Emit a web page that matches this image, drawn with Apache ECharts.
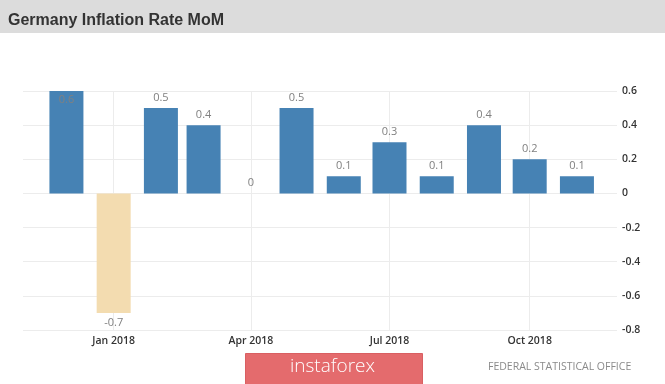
<!DOCTYPE html>
<html>
<head>
<meta charset="utf-8">
<script src="https://cdn.jsdelivr.net/npm/echarts@6/dist/echarts.min.js"></script>
<style>html,body{margin:0;padding:0;background:#fff;}#c{width:665px;height:384px;}</style>
</head>
<body>
<div id="c"></div>
<script>
const titleText = 'Germany Inflation Rate MoM';
const sourceText = 'FEDERAL STATISTICAL OFFICE';
const watermarkText = 'instaforex';
const months = ['2017-12-01','2018-01-01','2018-02-01','2018-03-01','2018-04-01','2018-05-01','2018-06-01','2018-07-01','2018-08-01','2018-09-01','2018-10-01','2018-11-01'];
const values = [0.6, -0.7, 0.5, 0.4, 0, 0.5, 0.1, 0.3, 0.1, 0.4, 0.2, 0.1];
const xTickDates = ['2018-01-01','2018-04-01','2018-07-01','2018-10-01'];
const monthNames = ['Jan','Feb','Mar','Apr','May','Jun','Jul','Aug','Sep','Oct','Nov','Dec'];
const yMin = -0.8, yMax = 0.6, yStep = 0.2;

function ts(s){ const p = s.split('-').map(Number); return new Date(p[0], p[1]-1, p[2]).getTime(); }
const xMin = new Date(2017, 10, 2, 12).getTime();
const xMax = new Date(2018, 10, 27, 7).getTime();

const data = months.map((m, i) => {
  const v = values[i];
  const item = { value: [ts(m), v] };
  if (v < 0) {
    item.itemStyle = { color: '#f3dcb0' };
    item.label = { position: 'bottom', distance: 4 };
  } else if (v >= yMax) {
    item.label = { position: 'insideTop', distance: 3 };
  }
  return item;
});

const chart = echarts.init(document.getElementById('c'), null, { renderer: 'canvas' });
chart.setOption({
  animation: false,
  backgroundColor: '#ffffff',
  title: {
    text: titleText, left: 3, top: 8,
    textStyle: { fontFamily: 'Liberation Sans, Arial, sans-serif', fontSize: 16, fontWeight: 'bold', color: '#333333' }
  },
  graphic: [
    { type: 'rect', left: 0, top: 0, z: -10, shape: { width: 665, height: 33 }, style: { fill: '#dcdcdc' } },
    { type: 'rect', left: 245, top: 353, z: 10, shape: { width: 177, height: 32 }, style: { fill: '#e46b6d', stroke: '#d95f62', lineWidth: 1 } },
    { type: 'text', left: 290, top: 357, z: 11, style: { text: watermarkText, fill: '#ffffff', font: '300 19px "Open Sans", sans-serif' } },
    { type: 'text', left: 488, top: 362, z: 11, style: { text: sourceText, fill: '#8a8a8a', font: '10.5px "Open Sans", sans-serif' } }
  ],
  grid: { left: 23, right: 48, top: 91, bottom: 54, containLabel: false },
  xAxis: {
    type: 'value', min: xMin, max: xMax, scale: true,
    axisLine: { show: false },
    axisTick: { show: false, customValues: xTickDates.map(ts) },
    axisLabel: {
      customValues: xTickDates.map(ts),
      margin: 6,
      color: '#333333',
      fontFamily: 'Open Sans, sans-serif', fontSize: 10.5, fontWeight: 600,
      formatter: function (val) { const d = new Date(val); return monthNames[d.getMonth()] + ' ' + d.getFullYear(); }
    },
    splitLine: { show: true, lineStyle: { color: '#ececec', width: 1 } }
  },
  yAxis: {
    type: 'value', position: 'right', min: yMin, max: yMax, interval: yStep,
    axisLine: { show: false }, axisTick: { show: false },
    axisLabel: {
      margin: 5, color: '#333333', fontFamily: 'Open Sans, sans-serif', fontSize: 10.5, fontWeight: 600,
      formatter: function (v) { return String(Math.round(v * 10) / 10); }
    },
    splitLine: { lineStyle: { color: '#ececec', width: 1 } }
  },
  series: [{
    type: 'bar',
    barWidth: 34,
    data: data,
    itemStyle: { color: '#4682b4' },
    label: {
      show: true, position: 'top', distance: 5,
      color: '#808080', fontFamily: 'Open Sans, sans-serif', fontSize: 11,
      formatter: function (p) { return String(p.value[1]); }
    }
  }]
});
</script>
</body>
</html>
